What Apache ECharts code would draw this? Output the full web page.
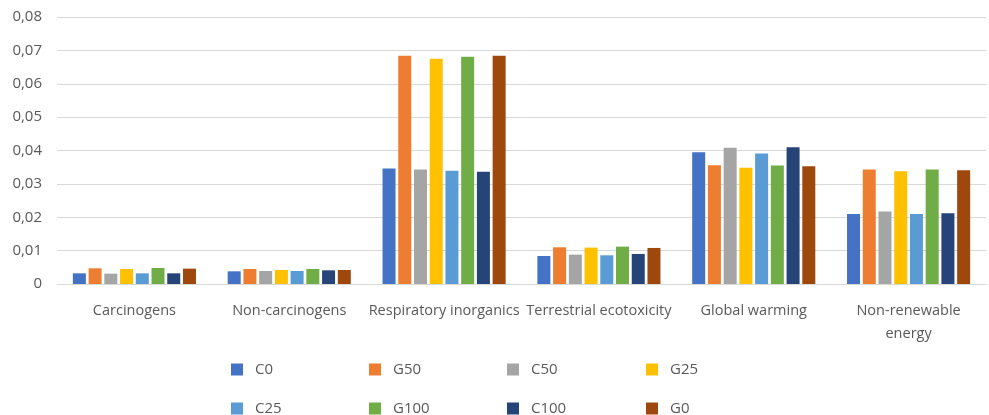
<!DOCTYPE html>
<html>
<head>
<meta charset="utf-8">
<script src="https://cdn.jsdelivr.net/npm/echarts@6/dist/echarts.min.js"></script>
<style>
  html, body { margin: 0; padding: 0; background: #ffffff; }
  #chart { width: 989px; height: 415px; }
</style>
</head>
<body>
<div id="chart"></div>
<script>
// Impact categories on the x axis
const categories = [
  'Carcinogens',
  'Non-carcinogens',
  'Respiratory inorganics',
  'Terrestrial ecotoxicity',
  'Global warming',
  'Non-renewable\nenergy'
];

// Y axis tick labels (decimal comma)
const yTicks = ['0', '0,01', '0,02', '0,03', '0,04', '0,05', '0,06', '0,07', '0,08'];

// Series values per scenario, one value per category
const C0   = [0.0032, 0.0038, 0.0346, 0.0084, 0.0395, 0.0210];
const G50  = [0.0047, 0.0045, 0.0684, 0.0110, 0.0356, 0.0343];
const C50  = [0.0031, 0.0039, 0.0343, 0.0088, 0.0408, 0.0217];
const G25  = [0.0045, 0.0042, 0.0675, 0.0109, 0.0348, 0.0338];
const C25  = [0.0032, 0.0039, 0.0339, 0.0086, 0.0391, 0.0210];
const G100 = [0.0048, 0.0045, 0.0681, 0.0112, 0.0355, 0.0343];
const C100 = [0.0032, 0.0041, 0.0336, 0.0090, 0.0410, 0.0212];
const G0   = [0.0046, 0.0042, 0.0684, 0.0108, 0.0353, 0.0341];

const seriesNames = ['C0', 'G50', 'C50', 'G25', 'C25', 'G100', 'C100', 'G0'];
const seriesData = [C0, G50, C50, G25, C25, G100, C100, G0];
const colors = ['#4472c4', '#ed7d31', '#a5a5a5', '#ffc000', '#5b9bd5', '#70ad47', '#264478', '#9e480e'];

const FONT = '"Open Sans", "Noto Sans", sans-serif';
const TEXT = '#595959';

// Legend laid out as a 4 x 2 grid, one legend block per entry
const legendCols = [231, 369, 507, 646];
const legendRows = [362, 401];
const legends = seriesNames.map((name, i) => ({
  data: [name],
  left: legendCols[i % 4],
  top: legendRows[Math.floor(i / 4)],
  itemWidth: 12,
  itemHeight: 12,
  icon: 'rect',
  selectedMode: false,
  padding: 0,
  textStyle: { color: TEXT, fontFamily: FONT, fontSize: 15, padding: [0, 0, 0, 7] }
}));

const chart = echarts.init(document.getElementById('chart'), null, { renderer: 'canvas' });
chart.setOption({
  animation: false,
  backgroundColor: '#ffffff',
  color: colors,
  grid: { left: 57, right: 3, top: 17, bottom: 131, containLabel: false },
  legend: legends,
  xAxis: {
    type: 'category',
    data: categories,
    axisLine: { show: true, lineStyle: { color: '#d9d9d9', width: 1 } },
    axisTick: { show: false },
    axisLabel: {
      interval: 0,
      color: TEXT,
      fontFamily: FONT,
      fontSize: 14.5,
      margin: 15,
      lineHeight: 23
    }
  },
  yAxis: {
    type: 'value',
    min: 0,
    max: 0.08,
    interval: 0.01,
    axisLine: { show: false },
    axisTick: { show: false },
    splitLine: { lineStyle: { color: '#d9d9d9', width: 1 } },
    axisLabel: {
      color: TEXT,
      fontFamily: FONT,
      fontSize: 15,
      margin: 15,
      formatter: (v) => yTicks[Math.round(v / 0.01)]
    }
  },
  series: seriesNames.map((name, i) => ({
    name: name,
    type: 'bar',
    data: seriesData[i],
    barWidth: 13,
    barGap: '21%',
    itemStyle: { color: colors[i] }
  }))
});
</script>
</body>
</html>
